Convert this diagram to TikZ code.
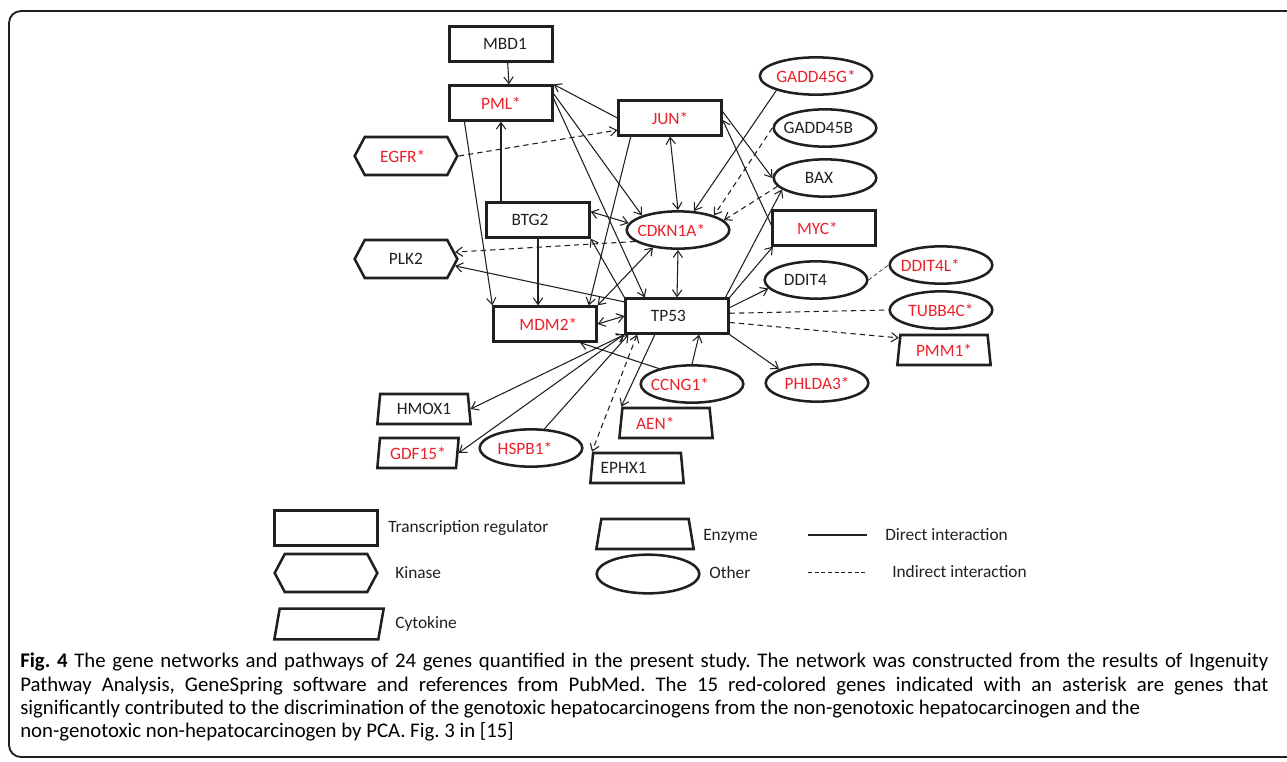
\documentclass[tikz,border=0pt]{standalone}
\usepackage{fontspec}
\setmainfont{Carlito}
\frenchspacing
\usetikzlibrary{shapes.geometric,shapes.symbols,arrows.meta}
\definecolor{genered}{RGB}{236,32,40}
\definecolor{ink}{RGB}{35,31,32}
\newcommand{\genlft}[2]{\makebox[0pt]{#2\kern#1}}
\newcommand{\genrgt}[2]{\makebox[0pt]{\kern#1#2}}

\begin{document}
\begin{tikzpicture}[x=0.75pt,y=-0.75pt,>={Straight Barb[length=5pt,width=7pt]},
    every node/.style={font=\fontsize{13}{15}\selectfont,text=ink,inner sep=0pt},
    gene/.style={draw=ink,line width=1.9pt},
    tfbox/.style={gene,rectangle,minimum width=77pt,minimum height=26pt},
    kinase/.style={gene,signal,signal to=west and east,signal pointer angle=124,minimum width=77pt,minimum height=28.5pt},
    other/.style={gene,ellipse,minimum width=77pt,minimum height=28pt},
    enzyme/.style={gene,trapezium,trapezium left angle=76,trapezium right angle=76,trapezium stretches body,minimum width=70pt,minimum height=22.5pt},
    cytokine/.style={gene,trapezium,trapezium left angle=78,trapezium right angle=102,trapezium stretches body,minimum width=61pt,minimum height=22.5pt},
    hit/.style={text=genered},
    link/.style={draw=ink,line width=0.8pt},
    ind/.style={link,dash pattern=on 4pt off 3pt},
    captext/.style={anchor=base west,font=\fontsize{15.6}{17}\selectfont,text=black}]
    \useasboundingbox (0,0) rectangle (1287,761);
    \clip (0,0) rectangle (1287,761);
    \draw[line width=1.4pt,ink,rounded corners=9pt] (1300,11) -- (9,11) -- (9,757) -- (1300,757);

    \node[tfbox] (mbd1) at (501,44) {\genrgt{6pt}{MBD1}};
    \node[tfbox,hit] (pml) at (501,103) {PML*};
    \node[tfbox,hit] (jun) at (670,118) {JUN*};
    \node[kinase,hit] (egfr) at (406,156) {\genlft{5pt}{EGFR*}};
    \node[other,hit] (gadd45g) at (816,76) {GADD45G*};
    \node[other] (gadd45b) at (825,128) {\genlft{10pt}{GADD45B}};
    \node[other] (bax) at (825,178) {\genlft{9pt}{BAX}};
    \node[tfbox] (btg2) at (538,220) {\genlft{12pt}{BTG2}};
    \node[other,hit] (cdkn1a) at (678,230) {\genlft{10pt}{CDKN1A*}};
    \node[tfbox,hit] (myc) at (824,228) {\genlft{10pt}{MYC*}};
    \node[kinase] (plk2) at (406,259) {PLK2};
    \node[other] (ddit4) at (816,280) {\genlft{16pt}{DDIT4}};
    \node[other,hit] (ddit4l) at (941,265) {\genlft{16pt}{DDIT4L*}};
    \node[other,hit] (tubb4c) at (941,310) {TUBB4C*};
    \node[tfbox] (tp53) at (677,316) {\genlft{13pt}{TP53}};
    \node[tfbox,hit] (mdm2) at (545,324) {\genrgt{5pt}{MDM2*}};
    \node[enzyme,hit] (pmm1) at (944,350) {PMM1*};
    \node[other,hit] (ccng1) at (692,384) {\genlft{18pt}{CCNG1*}};
    \node[other,hit] (phlda3) at (817,383) {PHLDA3*};
    \node[enzyme] (hmox1) at (424,409) {HMOX1};
    \node[enzyme,hit] (aen) at (666,423) {\genlft{16pt}{AEN*}};
    \node[cytokine,hit] (gdf15) at (418,453) {GDF15*};
    \node[other,hit] (hspb1) at (531,448) {\genlft{9pt}{HSPB1*}};
    \node[enzyme] (ephx1) at (637,468) {\genlft{20pt}{EPHX1}};

    \draw[link,->] ([xshift=5pt]mbd1.south) -- ([xshift=6pt]pml.north);
    \draw[link,->] (jun.180) -- (pml.north east);
    \draw[link,->] (pml.10) -- (cdkn1a.158);
    \draw[link,->] (pml.5) -- (tp53.150);
    \draw[link,->] ([xshift=12pt]pml.south west) -- (mdm2.north west);
    \draw[link,->] (btg2.north -| pml.south) -- (pml.south);
    \draw[ind,->] (egfr.east) -- (jun.193);
    \draw[link,<->] (jun.south) -- (cdkn1a.north);
    \draw[link,->] ([xshift=10pt]jun.south west) -- (mdm2.23);
    \draw[link,->] (jun.7) -- (bax.west);
    \draw[link,->] (myc.177) -- (jun.-2);
    \draw[link,->] (gadd45g.200) -- (cdkn1a.50);
    \draw[ind,->] (gadd45b.west) -- (cdkn1a.22);
    \draw[ind,->] (bax.190) -- (cdkn1a.12);
    \draw[link,->] (tp53.21) -- (bax.195);
    \draw[ind,->] (cdkn1a.195) -- (plk2.8);
    \draw[link,->] (tp53.165) -- (plk2.-8);
    \draw[link,<->] (btg2.9) -- (cdkn1a.172);
    \draw[link,->] (tp53.north west) -- (btg2.south east);
    \draw[link,->] (btg2.south) -- (btg2.south |- mdm2.north);
    \draw[link,<->] (cdkn1a.215) -- (mdm2.north east);
    \draw[link,<->] (cdkn1a.south) -- (tp53.north);
    \draw[link,<->] (mdm2.east) -- (tp53.west);
    \draw[link,->] (ccng1.155) -- (mdm2.-28);
    \draw[link,->] (ccng1.north) -- (tp53.-40);
    \draw[link,->] (tp53.north east) -- (myc.200);
    \draw[link,->] (tp53.9) -- (ddit4.190);
    \draw[link,densely dashed,line width=0.5pt] (ddit4.east) -- (ddit4l.west);
    \draw[ind] (tp53.3) -- (tubb4c.west);
    \draw[ind,->] (tp53.-7) -- (pmm1.165);
    \draw[link,->] (tp53.south east) -- (phlda3.160);
    \draw[link,->] (tp53.220) -- (aen.top left corner);
    \draw[ind,<->] (tp53.205) -- (ephx1.top left corner);
    \draw[link,<->] (tp53.south west) -- (hmox1.east);
    \draw[link,<->] (tp53.199) -- (gdf15.east);
    \draw[link,->] (hspb1.55) -- (tp53.201);

    \node[tfbox] (lgtf) at (326,528) {};
    \node[anchor=west] (lgtftext) at (388,528) {Transcription regulator};
    \node[kinase] (lgkin) at (326,573) {};
    \node[anchor=west] (lgkintext) at (395,573) {Kinase};
    \node[cytokine,minimum width=82pt,minimum height=23pt,trapezium left angle=75,trapezium right angle=105] (lgcyt) at (329,624) {\strut};
    \node[anchor=west] (lgcyttext) at (395,624) {Cytokine};
    \node[enzyme,minimum width=73pt] (lgenz) at (645,534) {\strut};
    \node[anchor=west] (lgenztext) at (703,536) {Enzyme};
    \node[other,minimum height=29pt] (lgoth) at (648,574) {};
    \node[anchor=west] (lgothtext) at (709,573) {Other};
    \coordinate (ld1) at (808,535);
    \coordinate (ld2) at (867,535);
    \draw[link] (ld1) -- (ld2);
    \node[anchor=west] (lddtext) at (885,535) {Direct interaction};
    \coordinate (li1) at (808,572);
    \coordinate (li2) at (867,572);
    \draw[link,dash pattern=on 3pt off 2pt,line width=0.5pt] (li1) -- (li2);
    \node[anchor=west] (litext) at (892,572) {Indirect interaction};

    \node[captext] (cap1) at (20,667) {\makebox[936pt][s]{\textbf{Fig. 4} The gene networks and pathways of 24 genes quantified in the present study. The network was constructed from the results of Ingenuity}};
    \node[captext] (cap2) at (20,691) {\makebox[936pt][s]{Pathway Analysis, GeneSpring software and references from PubMed. The 15 red-colored genes indicated with an asterisk are genes that}};
    \node[captext] (cap3) at (20,714) {significantly contributed to the discrimination of the genotoxic hepatocarcinogens from the non-genotoxic hepatocarcinogen and the};
    \node[captext] (cap4) at (20,737) {non-genotoxic non-hepatocarcinogen by PCA. Fig. 3 in [15]};
\end{tikzpicture}
\end{document}
